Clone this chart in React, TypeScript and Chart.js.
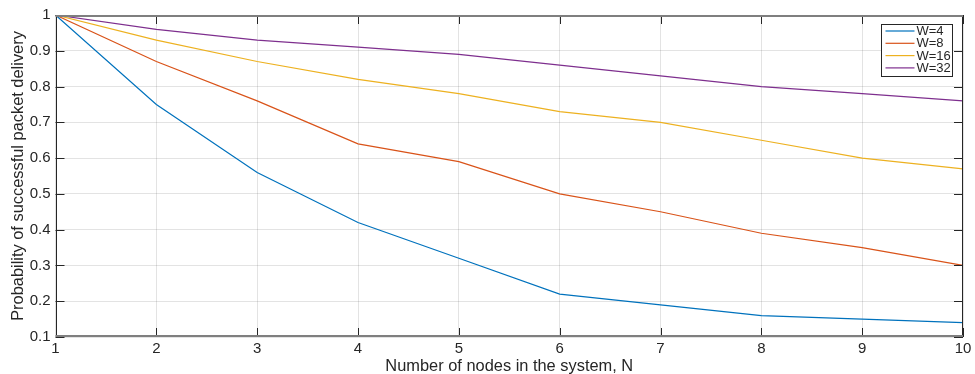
import React, { useEffect, useRef } from "react";
import { Chart, registerables } from "chart.js";

Chart.register(...registerables);

const nodes = [1, 2, 3, 4, 5, 6, 7, 8, 9, 10];
const w4 = [1, 0.75, 0.56, 0.42, 0.32, 0.22, 0.19, 0.16, 0.15, 0.14];
const w8 = [1, 0.87, 0.76, 0.64, 0.59, 0.5, 0.45, 0.39, 0.35, 0.3];
const w16 = [1, 0.93, 0.87, 0.82, 0.78, 0.73, 0.7, 0.65, 0.6, 0.57];
const w32 = [1, 0.96, 0.93, 0.91, 0.89, 0.86, 0.83, 0.8, 0.78, 0.76];
const seriesLabels = ["W=4", "W=8", "W=16", "W=32"];
const seriesColors = ["#0072BD", "#D95319", "#EDB120", "#7E2F8E"];
const xTitle = "Number of nodes in the system, N";
const yTitle = "Probability of successful packet delivery";

const FONT = "Liberation Sans, Arial, Helvetica, sans-serif";
const AXIS = "#262626";

const boxPlugin = {
  id: "matlabBox",
  afterDatasetsDraw(chart: any) {
    const { ctx, chartArea: a, scales } = chart;
    ctx.save();
    // inward ticks
    ctx.strokeStyle = AXIS;
    ctx.lineWidth = 1;
    const tl = 9;
    scales.x.ticks.forEach((t: any) => {
      const px = Math.round(scales.x.getPixelForValue(t.value)) + 0.5;
      ctx.beginPath();
      ctx.moveTo(px, a.bottom);
      ctx.lineTo(px, a.bottom - tl);
      ctx.moveTo(px, a.top);
      ctx.lineTo(px, a.top + tl);
      ctx.stroke();
    });
    scales.y.ticks.forEach((t: any) => {
      const py = Math.round(scales.y.getPixelForValue(t.value)) + 0.5;
      ctx.beginPath();
      ctx.moveTo(a.left, py);
      ctx.lineTo(a.left + tl, py);
      ctx.moveTo(a.right, py);
      ctx.lineTo(a.right - tl, py);
      ctx.stroke();
    });
    // box
    ctx.strokeStyle = AXIS;
    ctx.lineWidth = 1;
    ctx.beginPath();
    ctx.moveTo(Math.round(a.left) + 0.5, a.top);
    ctx.lineTo(Math.round(a.left) + 0.5, a.bottom);
    ctx.moveTo(Math.round(a.right) - 0.5, a.top);
    ctx.lineTo(Math.round(a.right) - 0.5, a.bottom);
    ctx.stroke();
    ctx.strokeStyle = "#7f7f7f";
    ctx.lineWidth = 2;
    ctx.beginPath();
    ctx.moveTo(a.left, Math.round(a.top) + 1);
    ctx.lineTo(a.right, Math.round(a.top) + 1);
    ctx.moveTo(a.left, Math.round(a.bottom) - 1);
    ctx.lineTo(a.right, Math.round(a.bottom) - 1);
    ctx.stroke();

    // legend
    const bx = Math.round(a.right) - 81.5;
    const by = Math.round(a.top) + 9.5;
    const bw = 71;
    const bh = 52;
    ctx.fillStyle = "#ffffff";
    ctx.fillRect(bx, by, bw, bh);
    ctx.strokeStyle = AXIS;
    ctx.lineWidth = 1;
    ctx.strokeRect(bx, by, bw, bh);
    ctx.font = `13px ${FONT}`;
    ctx.textBaseline = "middle";
    ctx.textAlign = "left";
    chart.data.datasets.forEach((ds: any, i: number) => {
      const cy = by + 6.5 + i * 12.3;
      ctx.strokeStyle = ds.borderColor;
      ctx.lineWidth = 1.2;
      ctx.beginPath();
      ctx.moveTo(bx + 4, cy);
      ctx.lineTo(bx + 33, cy);
      ctx.stroke();
      ctx.fillStyle = AXIS;
      ctx.fillText(ds.label, bx + 35, cy + 0.5);
    });
    ctx.restore();
  },
};

export default function App() {
  const ref = useRef<HTMLCanvasElement | null>(null);
  useEffect(() => {
    if (!ref.current) return;
    const all = [w4, w8, w16, w32];
    const chart = new Chart(ref.current, {
      type: "line",
      data: {
        datasets: all.map((vals, i) => ({
          label: seriesLabels[i],
          data: nodes.map((n, j) => ({ x: n, y: vals[j] })),
          borderColor: seriesColors[i],
          backgroundColor: seriesColors[i],
          borderWidth: 1.2,
          pointRadius: 0,
          tension: 0,
          fill: false,
        })),
      },
      options: {
        responsive: false,
        animation: false,
        maintainAspectRatio: false,
        layout: { padding: { left: 0, top: 15, right: 12, bottom: 0 } },
        plugins: { legend: { display: false }, tooltip: { enabled: false } },
        scales: {
          x: {
            type: "linear",
            min: 1,
            max: 10,
            afterFit: (s: any) => {
              s.height = 37;
            },
            ticks: {
              stepSize: 1,
              color: AXIS,
              font: { family: FONT, size: 15 },
              padding: 3,
              maxRotation: 0,
            },
            grid: { color: "rgba(38,38,38,0.13)", drawTicks: false },
            border: { display: false },
            title: {
              display: true,
              text: xTitle,
              color: AXIS,
              font: { family: FONT, size: 16.4 },
              padding: { top: 0, bottom: -2 },
            },
          },
          y: {
            type: "linear",
            min: 0.1,
            max: 1,
            afterFit: (s: any) => {
              s.width = 55.5;
            },
            ticks: {
              stepSize: 0.1,
              color: AXIS,
              font: { family: FONT, size: 15 },
              padding: 5,
              callback: (v: any) => String(Number(Number(v).toFixed(1))),
            },
            grid: { color: "rgba(38,38,38,0.13)", drawTicks: false },
            border: { display: false },
            title: {
              display: true,
              text: yTitle,
              color: AXIS,
              font: { family: FONT, size: 16.4 },
              padding: { top: 9, bottom: 0 },
            },
          },
        },
      },
      plugins: [boxPlugin],
    });
    return () => chart.destroy();
  }, []);
  return (
    <div style={{ position: "absolute", left: 0, top: 0, width: 975, height: 374, background: "#fff" }}>
      <canvas ref={ref} width={975} height={374} style={{ display: "block" }} />
    </div>
  );
}
